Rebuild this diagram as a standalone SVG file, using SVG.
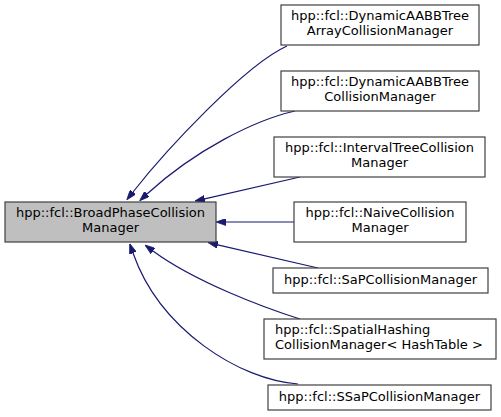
<svg xmlns="http://www.w3.org/2000/svg" width="501" height="417" viewBox="0 0 501 417">
<defs>
<style>
.node rect{fill:#ffffff;stroke:#404040;stroke-width:1.2}
#node_main rect{fill:#bfbfbf}
text{font-family:"DejaVu Sans","Liberation Sans",sans-serif;font-size:13px;fill:#000000}
.c{text-anchor:middle}
.edges path{fill:none;stroke:#191970;stroke-width:1.2}
</style>
<marker id="arr" viewBox="0 0 10 7" refX="0" refY="3.5" markerWidth="10" markerHeight="7" markerUnits="userSpaceOnUse" orient="auto">
<path d="M0,0 L10,3.5 L0,7 Z" fill="#191970" stroke="#191970" stroke-width="0.8"/>
</marker>
</defs>
<rect width="501" height="417" fill="#ffffff"/>
<g class="edges" id="connectors">
<path d="M287,46 C245,65 166,150 133,192" marker-end="url(#arr)"/>
<path d="M295,111 C255,120 195,150 147,194" marker-end="url(#arr)"/>
<path d="M300,177 L204.7,198.8" marker-end="url(#arr)"/>
<path d="M294,222 L226,222" marker-end="url(#arr)"/>
<path d="M318,268 L217.7,244.8" marker-end="url(#arr)"/>
<path d="M300,319 C265,308 195,282 153,251" marker-end="url(#arr)"/>
<path d="M298,384 C240,380 160,330 133,253" marker-end="url(#arr)"/>
</g>
<g class="node" id="node_main">
<rect x="5" y="202" width="211" height="40"/>
<text class="c" x="110.5" y="217">hpp::fcl::BroadPhaseCollision</text>
<text class="c" x="110.5" y="232">Manager</text>
</g>
<g class="node" id="node_dynarray">
<rect x="281" y="5" width="198" height="40"/>
<text class="c" x="380" y="20">hpp::fcl::DynamicAABBTree</text>
<text class="c" x="380" y="35">ArrayCollisionManager</text>
</g>
<g class="node" id="node_dyn">
<rect x="281" y="71" width="198" height="40"/>
<text class="c" x="380" y="86">hpp::fcl::DynamicAABBTree</text>
<text class="c" x="380" y="101">CollisionManager</text>
</g>
<g class="node" id="node_interval">
<rect x="274" y="137" width="211" height="40"/>
<text class="c" x="379.5" y="152">hpp::fcl::IntervalTreeCollision</text>
<text class="c" x="379.5" y="167">Manager</text>
</g>
<g class="node" id="node_naive">
<rect x="294" y="202" width="172" height="40"/>
<text class="c" x="380" y="217">hpp::fcl::NaiveCollision</text>
<text class="c" x="380" y="232">Manager</text>
</g>
<g class="node" id="node_sap">
<rect x="273" y="268" width="215" height="25"/>
<text class="c" x="380.5" y="284">hpp::fcl::SaPCollisionManager</text>
</g>
<g class="node" id="node_spatial">
<rect x="264" y="319" width="232" height="40"/>
<text x="275" y="334">hpp::fcl::SpatialHashing</text>
<text x="275" y="349">CollisionManager&lt; HashTable &gt;</text>
</g>
<g class="node" id="node_ssap">
<rect x="268" y="385" width="223" height="25"/>
<text class="c" x="379.5" y="401">hpp::fcl::SSaPCollisionManager</text>
</g>
</svg>
